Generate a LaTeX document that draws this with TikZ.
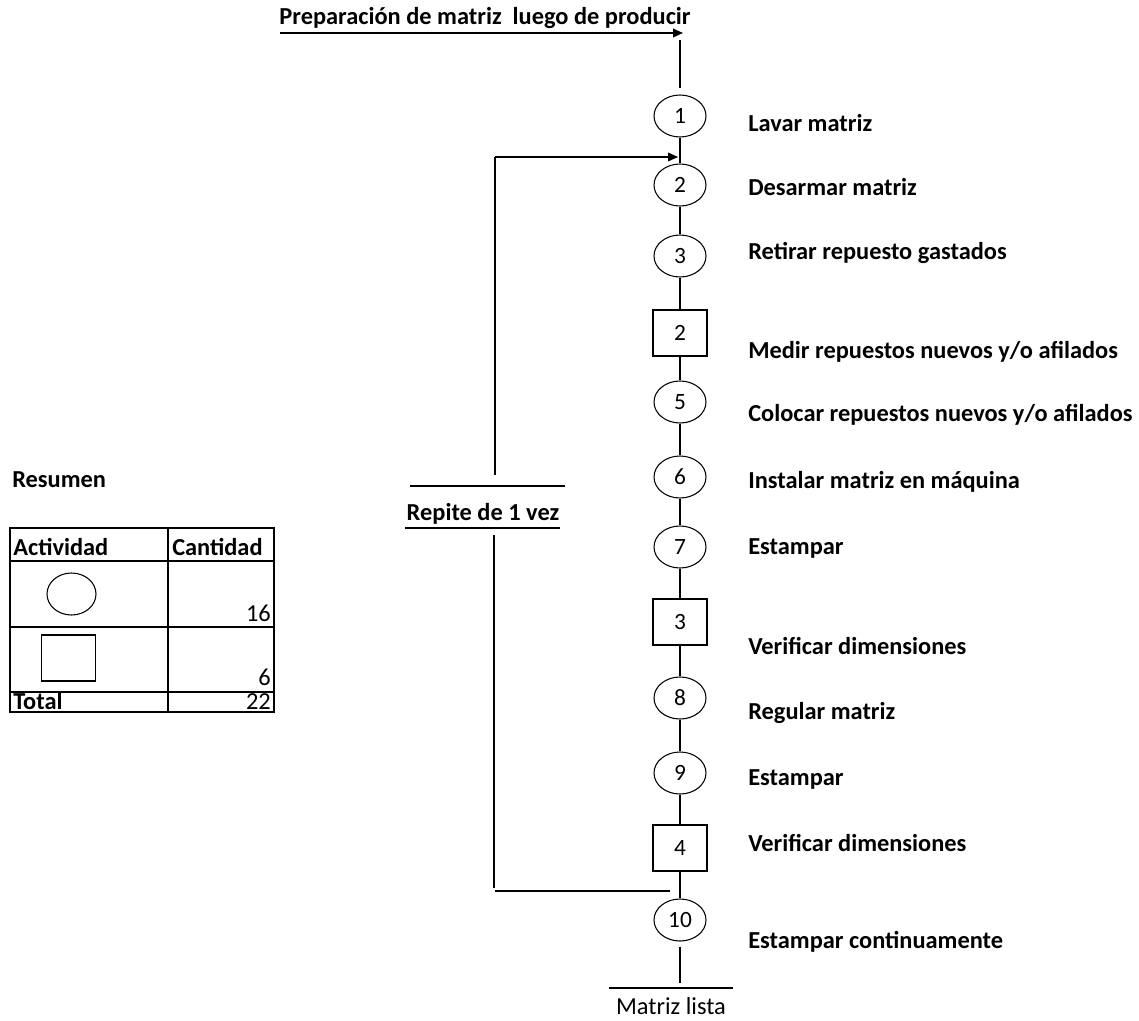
\documentclass[tikz,border=0pt]{standalone}
\usepackage{fontspec}
\setmainfont{Carlito}
\usetikzlibrary{shapes.geometric,arrows.meta}

\tikzset{
	oper/.style={draw,ellipse,line width=0.8pt,minimum width=39pt,minimum height=31.5pt,inner sep=0pt,font=\fontsize{17.5}{20}\selectfont},
	insp/.style={draw,rectangle,line width=0.8pt,minimum width=40.5pt,minimum height=34.5pt,inner sep=0pt,font=\fontsize{17.5}{20}\selectfont},
	paso/.style={anchor=west,inner sep=0pt,font=\fontsize{18.3}{22}\selectfont\bfseries},
	texto/.style={inner sep=0pt,font=\fontsize{18.3}{22}\selectfont},
	linea/.style={line width=1.1pt},
	flecha/.style={line width=1.1pt,-{Triangle[length=7.5pt,width=6.5pt]}},
	tabla/.style={line width=1.5pt}
}

\begin{document}
\begin{tikzpicture}[x=0.75pt,y=-0.75pt]
		\useasboundingbox (0,0) rectangle (1139,1021);

		% title and entry
		\node[texto,font=\fontsize{18.3}{22}\selectfont\bfseries] (titulo) at (485,18) {Preparación de matriz\ \ luego de producir};
		\coordinate (inicio) at (280,33);
		\coordinate (entrada) at (683,33);
		\coordinate (e1) at (680,40);
		\draw[flecha] (inicio) -- (entrada);

		% process steps
		\node[oper] (c1) at (680,116) {1};
		\node[oper] (c2) at (680,185) {2};
		\node[oper] (c3) at (680,256) {3};
		\node[insp] (s2) at (680,333) {2};
		\node[oper] (c5) at (680,402) {5};
		\node[oper] (c6) at (680,477) {6};
		\node[oper] (c7) at (680,547) {7};
		\node[insp] (s3) at (680,622) {3};
		\node[oper] (c8) at (680,698) {8};
		\node[oper] (c9) at (680,773) {9};
		\node[insp] (s4) at (680,848) {4};
		\node[oper] (c10) at (680,920) {10};

		% step labels
		\node[paso] (l1) at (748,123) {Lavar matriz};
		\node[paso] (l2) at (748,187) {Desarmar matriz};
		\node[paso] (l3) at (748,253) {Retirar repuesto gastados};
		\node[paso] (l4) at (748,352) {Medir repuestos nuevos y/o afilados};
		\node[paso] (l5) at (748,415) {Colocar repuestos nuevos y/o afilados};
		\node[paso] (l6) at (748,482) {Instalar matriz en máquina};
		\node[paso] (l7) at (748,548) {Estampar};
		\node[paso] (l8) at (748,646) {Verificar dimensiones};
		\node[paso] (l9) at (748,713) {Regular matriz};
		\node[paso] (l10) at (748,779) {Estampar};
		\node[paso] (l11) at (748,843) {Verificar dimensiones};
		\node[paso] (l12) at (748,942) {Estampar continuamente};

		% main line
		\draw[linea] (e1) -- ([yshift=5pt]c1.north);
		\draw[linea] (c1) -- (c2);
		\draw[linea] (c2) -- (c3);
		\draw[linea] (c3) -- (s2);
		\draw[linea] (s2) -- (c5);
		\draw[linea] (c5) -- (c6);
		\draw[linea] (c6) -- (c7);
		\draw[linea] (c7) -- (s3);
		\draw[linea] (s3) -- (c8);
		\draw[linea] (c8) -- (c9);
		\draw[linea] (c9) -- (s4);
		\draw[linea] (s4) -- (c10);

		% end
		\coordinate (fin) at (680,983);
		\node[texto] (lista) at (671,1006) {Matriz lista};
		\draw[linea] ([yshift=-4pt]c10.south) -- (fin);
		\draw[linea] (609,988) -- (733,988);

		% repeat loop
		\node[texto,font=\fontsize{18.3}{22}\selectfont\bfseries] (repite) at (483,514) {Repite de 1 vez};
		\coordinate (lazoA) at (495,157);
		\coordinate (lazoB) at (495,475);
		\coordinate (lazoC) at (494,535);
		\coordinate (lazoD) at (494,888);
		\coordinate (retorno) at (678,157);
		\draw[flecha] (lazoA) -- (retorno);
		\draw[linea] (lazoA) -- (lazoB);
		\draw[linea] (410,486) -- (565,486);
		\draw[linea] (405,528) -- (560,528);
		\draw[linea] (lazoC) -- (lazoD);
		\draw[linea] (495,891) -- (670,891);

		% summary table
		\node[paso] (resumen) at (12,480) {Resumen};
		\draw[tabla] (10,528) rectangle (274,712);
		\draw[tabla] (10,561) -- (274,561);
		\draw[tabla] (10,627) -- (274,627);
		\draw[tabla] (10,692) -- (274,692);
		\draw[tabla] (168,528) -- (168,712);
		\node[paso,anchor=base west] (hA) at (13,555) {Actividad};
		\node[paso,anchor=base west] (hC) at (172,555) {Cantidad};
		\node[draw,ellipse,line width=0.8pt,minimum width=36.75pt,minimum height=31.5pt] (simO) at (71.5,594) {};
		\node[draw,rectangle,line width=0.8pt,minimum width=41pt,minimum height=34.5pt] (simI) at (68.5,658) {};
		\node[texto,anchor=base east] (nO) at (271,621) {16};
		\node[texto,anchor=base east] (nI) at (271,685) {6};
		\node[paso,anchor=base west] (tot) at (13,709) {Total};
		\node[texto,anchor=base east] (nT) at (271,709) {22};

	\end{tikzpicture}
\end{document}
